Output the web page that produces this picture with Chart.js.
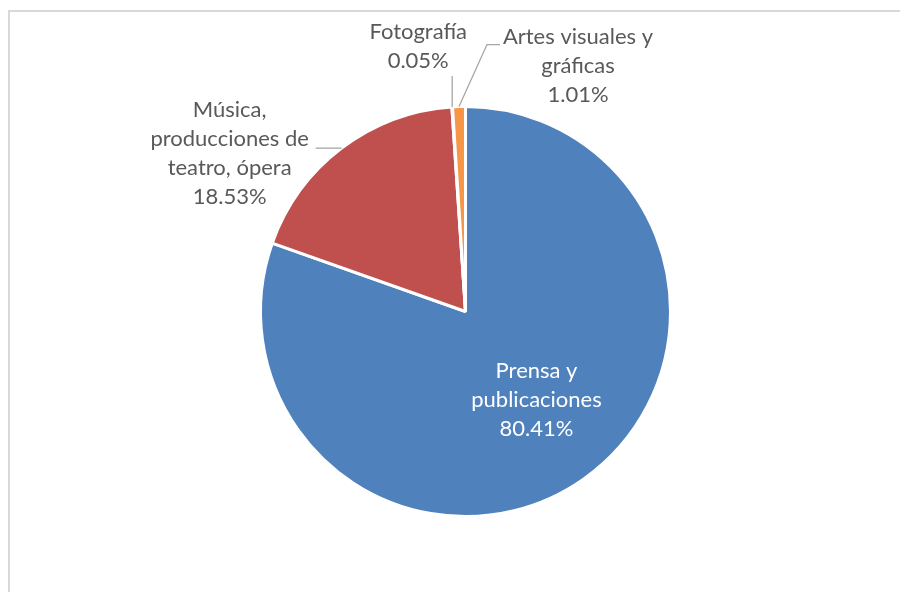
<!DOCTYPE html>
<html>
<head>
<meta charset="utf-8">
<script src="https://cdn.jsdelivr.net/npm/chart.js@4/dist/chart.umd.min.js"></script>
<style>
  html, body { margin: 0; padding: 0; background: #ffffff; }
  #wrap { width: 900px; height: 592px; }
</style>
</head>
<body>
<div id="wrap"><canvas id="c" width="900" height="592"></canvas></div>
<script>
// ---- data ----
const categories = ['Prensa y publicaciones', 'Música, producciones de teatro, ópera', 'Fotografía', 'Artes visuales y gráficas'];
const shares = [80.41, 18.53, 0.05, 1.01];
const labelLines = [
  ['Prensa y', 'publicaciones'],
  ['Música,', 'producciones de', 'teatro, ópera'],
  ['Fotografía'],
  ['Artes visuales y', 'gráficas']
];

// ---- style ----
const sliceColors = ['#4F81BD', '#C0504D', '#9BBB59', '#F79646'];
const FONT = '22px Lato';
const LINE_H = 29;
// label placement relative to each slice's geometry
const labelLayout = [
  { mode: 'inside', frac: 0.6, dx: 0, firstBaseline: -34, color: '#ffffff' },
  { mode: 'outside', leader: [[-26, 0]], textDx: -86, firstBaseline: -31, color: '#595959' },
  { mode: 'outside', leader: [[0, -31]], textDx: -34, firstBaseline: -37, color: '#595959' },
  { mode: 'outside', leader: [[28, -62], [41, -62]], textDx: 78, firstBaseline: -1, color: '#595959' }
];

const frame = {
  id: 'frame',
  beforeDraw(chart) {
    const ctx = chart.ctx;
    ctx.save();
    ctx.fillStyle = '#ffffff';
    ctx.fillRect(0, 0, chart.width, chart.height);
    ctx.strokeStyle = '#d9d9d9';
    ctx.lineWidth = 2;
    ctx.strokeRect(9, 11, 2000, 2000);
    ctx.restore();
  }
};

const sliceLabels = {
  id: 'sliceLabels',
  afterDatasetsDraw(chart) {
    const ctx = chart.ctx;
    const meta = chart.getDatasetMeta(0);
    ctx.save();
    ctx.font = FONT;
    ctx.textAlign = 'center';
    ctx.textBaseline = 'alphabetic';
    meta.data.forEach((arc, i) => {
      const p = arc.getProps(['x', 'y', 'startAngle', 'endAngle', 'outerRadius'], true);
      const mid = (p.startAngle + p.endAngle) / 2;
      const lay = labelLayout[i];
      const lines = labelLines[i].concat([shares[i].toFixed(2) + '%']);
      let ax, ay;
      if (lay.mode === 'inside') {
        ax = p.x + Math.cos(mid) * p.outerRadius * lay.frac + lay.dx;
        ay = p.y + Math.sin(mid) * p.outerRadius * lay.frac;
      } else {
        const ex = p.x + Math.cos(mid) * p.outerRadius;
        const ey = p.y + Math.sin(mid) * p.outerRadius;
        ctx.strokeStyle = '#a6a6a6';
        ctx.lineWidth = 1.3;
        ctx.beginPath();
        ctx.moveTo(ex, ey);
        let lx = ex, ly = ey;
        lay.leader.forEach(([dx, dy]) => { lx = ex + dx; ly = ey + dy; ctx.lineTo(lx, ly); });
        ctx.stroke();
        ax = lx + lay.textDx;
        ay = ly;
      }
      ctx.fillStyle = lay.color;
      lines.forEach((t, k) => {
        ctx.fillText(t, ax, ay + lay.firstBaseline + k * LINE_H);
      });
    });
    ctx.restore();
  }
};

new Chart(document.getElementById('c'), {
  type: 'pie',
  data: {
    labels: categories,
    datasets: [{
      data: shares,
      backgroundColor: sliceColors,
      borderColor: '#ffffff',
      borderWidth: 3
    }]
  },
  options: {
    responsive: false,
    animation: false,
    layout: { padding: { left: 259, right: 228, top: 105, bottom: 74 } },
    plugins: { legend: { display: false }, tooltip: { enabled: false } }
  },
  plugins: [frame, sliceLabels]
});
</script>
</body>
</html>
